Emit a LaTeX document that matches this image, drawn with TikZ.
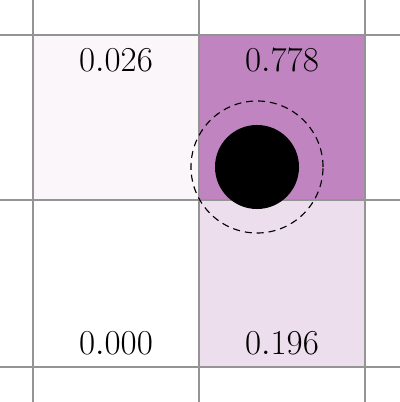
\documentclass[tikz,border=0pt]{standalone}
\usepackage{amsmath}
\usepackage{tikz}
\usetikzlibrary{positioning}
\definecolor{cellhi}{RGB}{192,132,192}
\definecolor{cellmid}{RGB}{237,222,237}
\definecolor{celllo}{RGB}{250,246,250}
\begin{document}
\begin{tikzpicture}[x=0.025cm, y=0.025cm, font=\fontsize{23}{28}\selectfont,
   val/.style={inner sep=0pt},
   gl/.style={draw=black!42, line width=1pt},
   agent/.style={circle, fill=black, inner sep=0pt, minimum size=2.1cm},
   reach/.style={circle, draw, dash pattern=on 5pt off 3.5pt, line width=0.8pt, inner sep=0pt, minimum size=3.3cm}]
\useasboundingbox (0,0) rectangle (400,402);
\fill[celllo] (33,202) rectangle (199,367);
\fill[cellhi] (199,202) rectangle (365,367);
\fill[cellmid] (199,35) rectangle (365,202);
\draw[gl] (33,0) -- (33,402); \draw[gl] (199,0) -- (199,402); \draw[gl] (365,0) -- (365,402);
\draw[gl] (0,35) -- (400,35); \draw[gl] (0,202) -- (400,202); \draw[gl] (0,367) -- (400,367);
\node[val] (a) at (116,342) {$0.026$};
\node[val] (b) at (282,342) {$0.778$};
\node[val] (c) at (116,59) {$0.000$};
\node[val] (d) at (282,59) {$0.196$};
\node[agent] (p) at (257,235) {};
\node[reach] (r) at (257,235) {};
\end{tikzpicture}
\end{document}
